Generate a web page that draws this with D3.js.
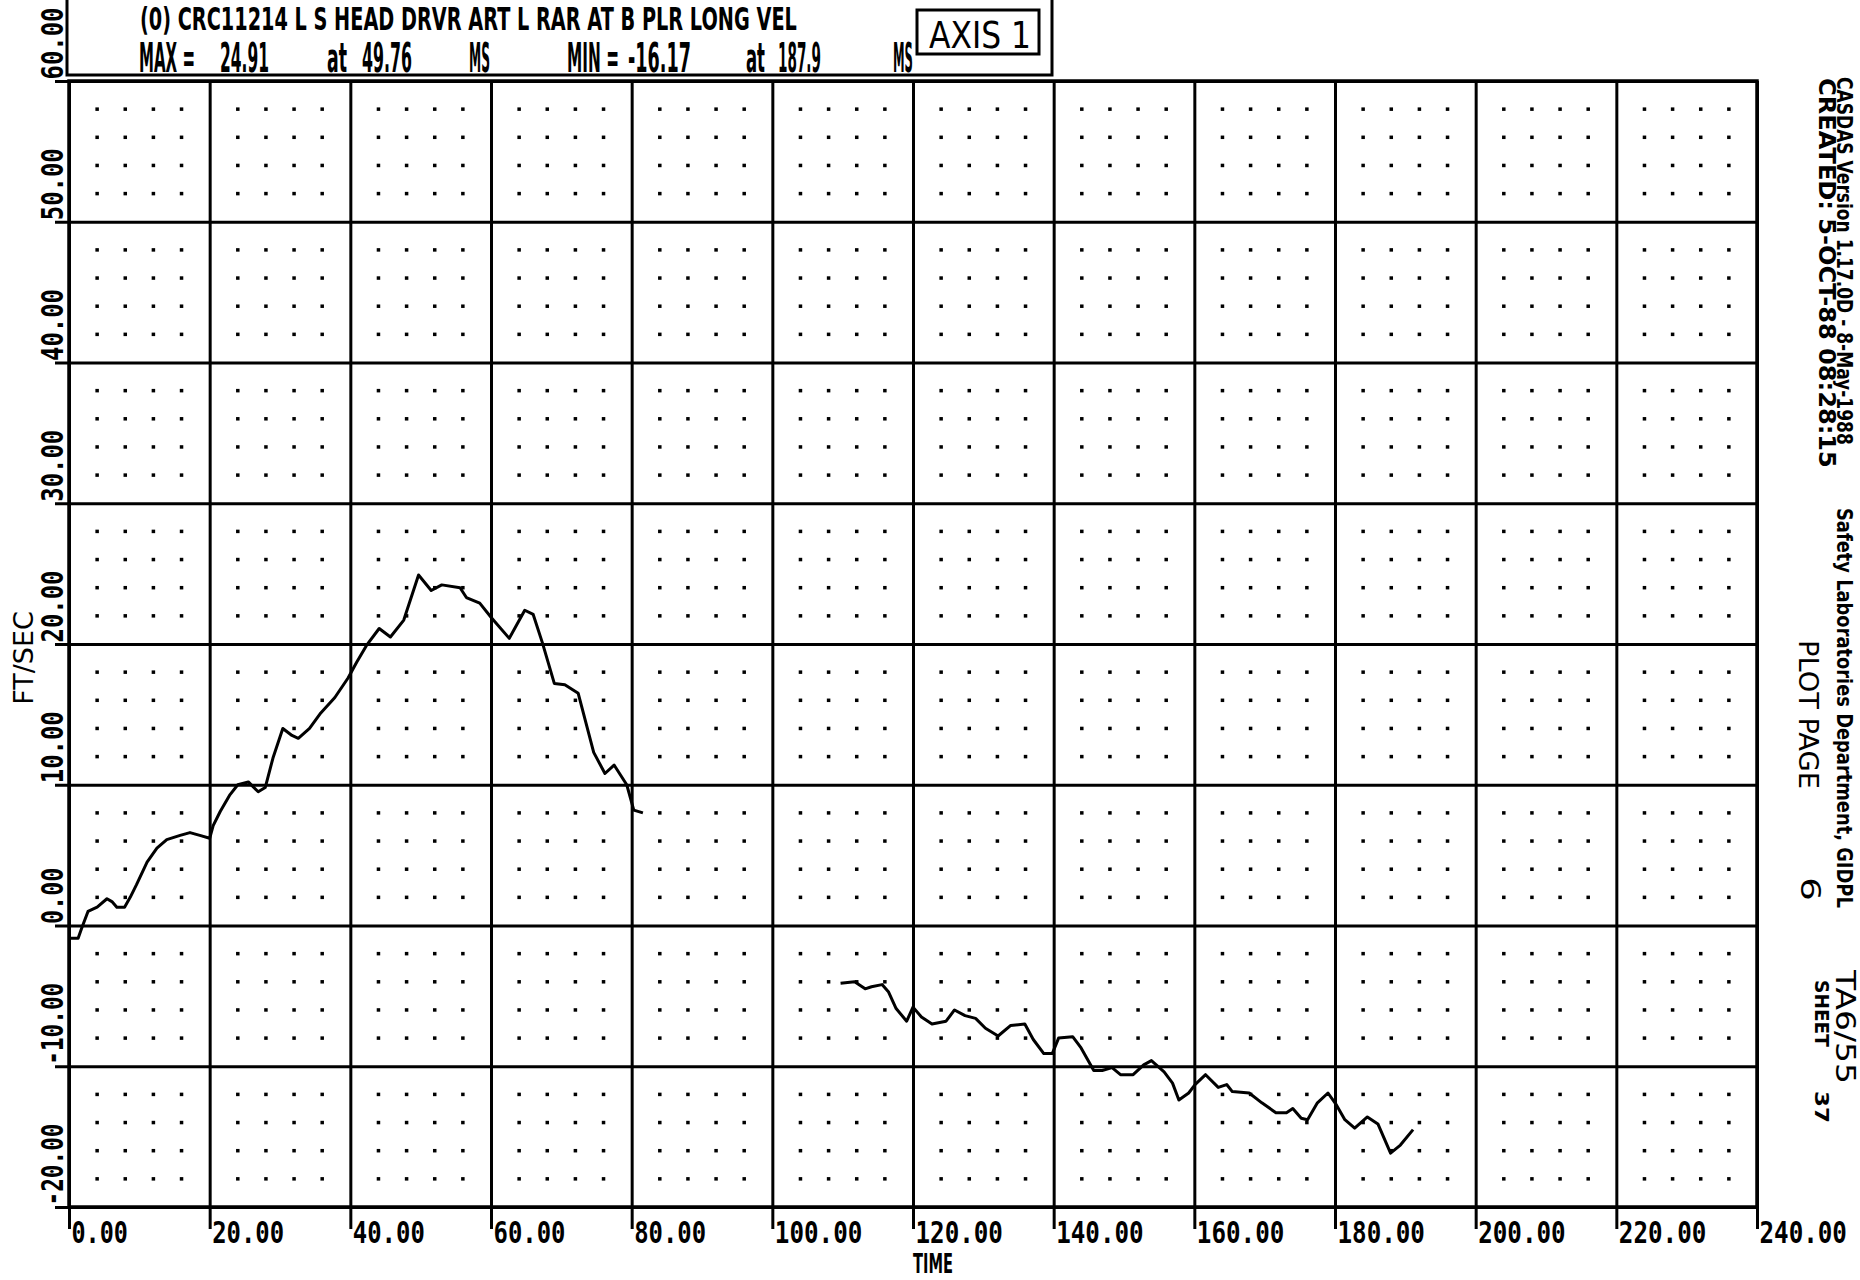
<!DOCTYPE html>
<html>
<head>
<meta charset="utf-8">
<script src="https://cdn.jsdelivr.net/npm/d3@7"></script>
<style>
  html, body { margin: 0; padding: 0; background: #fff; }
  svg { display: block; }
</style>
</head>
<body>
<div id="chart"></div>
<script>
// first trace segment (ms, ft/sec)
const timeA = [0.0, 1.3, 1.8, 2.7, 4.0, 5.4, 6.1, 6.8, 7.9, 8.7, 9.6, 11.1, 12.5, 13.9, 15.8, 17.2, 18.6, 20.0,
    20.5, 21.5, 22.9, 24.0, 25.5, 26.9, 27.9, 29.0, 30.4, 31.7, 32.6, 34.2, 35.8, 37.8, 39.7, 40.9, 42.3, 44.1,
    45.7, 47.6, 49.7, 51.5, 53.0, 55.6, 56.5, 58.4, 60.0, 62.6, 64.8, 66.0, 67.3, 69.0, 70.5, 72.4, 74.6, 76.2,
    77.5, 79.3, 80.3, 81.6];
const velA = [-0.9, -0.9, -0.2, 1.0, 1.3, 1.9, 1.7, 1.3, 1.3, 2.0, 2.9, 4.5, 5.5, 6.1, 6.4, 6.6, 6.4, 6.2,
    7.1, 8.1, 9.3, 10.0, 10.2, 9.5, 9.8, 11.9, 14.0, 13.5, 13.3, 14.0, 15.1, 16.2, 17.6, 18.7, 19.9, 21.1,
    20.5, 21.7, 24.9, 23.8, 24.2, 24.0, 23.3, 22.9, 21.9, 20.4, 22.4, 22.1, 20.1, 17.2, 17.1, 16.5, 12.3, 10.8,
    11.4, 10.0, 8.2, 8.0];

// second trace segment
const timeB = [109.7, 111.7, 113.2, 114.1, 115.6, 116.5, 117.6, 119.1, 120.0, 121.2, 122.7, 124.7, 125.9, 127.4,
    128.9, 130.3, 132.1, 133.9, 135.9, 137.1, 138.6, 139.8, 140.7, 142.7, 143.9, 145.7, 146.9, 148.3, 149.5,
    151.3, 152.8, 153.9, 155.7, 156.9, 157.8, 159.2, 160.1, 161.6, 163.4, 164.6, 165.4, 167.8, 169.6, 171.6,
    173.1, 174.0, 175.2, 176.1, 177.5, 179.0, 180.2, 181.4, 182.8, 184.6, 186.1, 187.9, 189.3, 191.1];
const velB = [-4.1, -4.0, -4.5, -4.35, -4.2, -4.7, -5.9, -6.8, -5.8, -6.5, -7.0, -6.8, -6.0, -6.4,
    -6.6, -7.3, -7.85, -7.1, -7.0, -8.1, -9.1, -9.1, -8.0, -7.9, -8.7, -10.3, -10.3, -10.1, -10.6,
    -10.6, -9.9, -9.6, -10.4, -11.2, -12.4, -11.9, -11.3, -10.6, -11.5, -11.3, -11.8, -11.9, -12.6, -13.3,
    -13.3, -13.0, -13.7, -13.8, -12.6, -11.9, -12.75, -13.8, -14.4, -13.6, -14.1, -16.17, -15.6, -14.5];

const xTicks = [0, 20, 40, 60, 80, 100, 120, 140, 160, 180, 200, 220, 240];
const xTickLabels = ["0.00", "20.00", "40.00", "60.00", "80.00", "100.00", "120.00", "140.00",
    "160.00", "180.00", "200.00", "220.00", "240.00"];
const yTicks = [-20, -10, 0, 10, 20, 30, 40, 50, 60];
const yTickLabels = ["-20.00", "-10.00", "0.00", "10.00", "20.00", "30.00", "40.00", "50.00", "60.00"];

const titleText = "(0) CRC11214 L S HEAD DRVR ART L RAR AT B PLR LONG VEL";
const statWords = ["MAX =", "24.91", "at", "49.76", "MS", "MIN =", "-16.17", "at", "187.9", "MS"];
const statSpans = [[139, 195], [220, 269], [327, 347], [362, 412], [469, 490],
    [567, 619], [628, 691], [746, 765], [778, 821], [893, 913]];

const sideTexts = [
    { t: "CASDAS Version 1.17.0D - 8-May-1988", x: 1837, y: 77, len: 368, size: 21, bold: true },
    { t: "Safety Laboratories Department, GIDPL", x: 1837, y: 508, len: 400, size: 21, bold: true },
    { t: "CREATED: 5-OCT-88 08:28:15", x: 1819, y: 78, len: 390, size: 23, bold: true },
    { t: "PLOT PAGE", x: 1799, y: 640, len: 149, size: 27, bold: false },
    { t: "6", x: 1801, y: 877, len: 24, size: 27, bold: false },
    { t: "TA6/55", x: 1836, y: 970, len: 114, size: 26, bold: false },
    { t: "SHEET", x: 1815, y: 980, len: 67, size: 20, bold: true },
    { t: "37", x: 1815, y: 1091, len: 32, size: 20, bold: true }
];

const W = 1860, H = 1280;
const monoFont = "'DejaVu Sans Mono', monospace";
const sansFont = "'DejaVu Sans', sans-serif";

// label widths: plotter digits are wider than the dot
const labelWidth = s => s.split("").reduce((w, c) => w + (c === "." || c === "-" ? 10 : 15.5), 0);

// squeeze a text sideways so it fills the given width (keeps its bbox honest)
function fitWidth(sel, widthFn) {
    sel.each(function (d, i) {
        const natural = this.getComputedTextLength();
        const base = this.getAttribute("transform") || "";
        this.setAttribute("transform", `${base} scale(${widthFn(d, i) / natural},1)`);
    });
}

const svg = d3.select("#chart").append("svg")
    .attr("width", W)
    .attr("height", H)
    .style("background", "#fff");

const x = d3.scaleLinear().domain([0, 240]).range([69, 1757]);
const y = d3.scaleLinear().domain([-20, 60]).range([1207, 81]);

// dotted minor grid
const xMinor = d3.range(0, 241, 4).filter(d => d % 20 !== 0);
const yMinor = d3.range(-20, 61, 2).filter(d => d % 10 !== 0);
const dots = [];
xMinor.forEach(a => yMinor.forEach(b => dots.push([a, b])));
svg.append("g")
    .selectAll("rect")
    .data(dots)
    .join("rect")
        .attr("x", d => x(d[0]) - 1.75)
        .attr("y", d => y(d[1]) - 1.75)
        .attr("width", 3.5)
        .attr("height", 3.5)
        .attr("fill", "#000");

// major grid
svg.append("g")
    .attr("transform", `translate(0,${y(-20)})`)
    .call(d3.axisBottom(x).tickValues(xTicks).tickSize(-(y(-20) - y(60))).tickFormat(""))
    .call(g => g.select(".domain").remove())
    .selectAll("line")
        .attr("stroke", "#000")
        .attr("stroke-width", 3);

svg.append("g")
    .attr("transform", `translate(${x(0)},0)`)
    .call(d3.axisLeft(y).tickValues(yTicks).tickSize(-(x(240) - x(0))).tickFormat(""))
    .call(g => g.select(".domain").remove())
    .selectAll("line")
        .attr("stroke", "#000")
        .attr("stroke-width", 3);

// frame
svg.append("rect")
    .attr("x", x(0))
    .attr("y", y(60))
    .attr("width", x(240) - x(0))
    .attr("height", y(-20) - y(60))
    .attr("fill", "none")
    .attr("stroke", "#000")
    .attr("stroke-width", 3.5);

// x axis with labels
const xAxis = svg.append("g")
    .attr("transform", `translate(0,${y(-20)})`)
    .call(d3.axisBottom(x).tickValues(xTicks).tickSize(22).tickFormat((d, i) => xTickLabels[i]));
xAxis.select(".domain").remove();
xAxis.selectAll("line").attr("stroke", "#000").attr("stroke-width", 3);
xAxis.selectAll("text")
    .attr("x", 0)
    .attr("y", 0)
    .attr("dy", null)
    .attr("transform", "translate(2,36)")
    .attr("text-anchor", "start")
    .attr("fill", "#000")
    .style("font-family", monoFont)
    .style("font-weight", "bold")
    .style("font-size", "30px")
    .call(fitWidth, (d, i) => labelWidth(xTickLabels[i]));

// y axis with rotated labels
const yAxis = svg.append("g")
    .attr("transform", `translate(${x(0)},0)`)
    .call(d3.axisLeft(y).tickValues(yTicks).tickSize(14).tickFormat((d, i) => yTickLabels[i]));
yAxis.select(".domain").remove();
yAxis.selectAll("line").attr("stroke", "#000").attr("stroke-width", 3);
yAxis.selectAll("text")
    .attr("x", 0)
    .attr("y", 0)
    .attr("dy", null)
    .attr("transform", "translate(-6,-2) rotate(-90)")
    .attr("text-anchor", "start")
    .attr("fill", "#000")
    .style("font-family", monoFont)
    .style("font-weight", "bold")
    .style("font-size", "30px")
    .call(fitWidth, (d, i) => labelWidth(yTickLabels[i]));

// axis titles
svg.append("text")
    .attr("transform", "translate(33,658) rotate(-90)")
    .attr("text-anchor", "middle")
    .style("font-family", sansFont)
    .style("font-size", "27px")
    .text("FT/SEC");

svg.append("text")
    .attr("transform", "translate(913,1273)")
    .style("font-family", sansFont)
    .style("font-weight", "bold")
    .style("font-size", "27px")
    .text("TIME")
    .call(fitWidth, () => 40);

// the trace
const line = d3.line()
    .x(d => x(d[0]))
    .y(d => y(d[1]));

[[timeA, velA], [timeB, velB]].forEach(([ts, vs]) => {
    svg.append("path")
        .datum(ts.map((t, i) => [t, vs[i]]))
        .attr("fill", "none")
        .attr("stroke", "#000")
        .attr("stroke-width", 3)
        .attr("stroke-linejoin", "round")
        .attr("d", line);
});

// header box
svg.append("path")
    .attr("d", "M67,-5 V75 H1052 V-5")
    .attr("fill", "none")
    .attr("stroke", "#000")
    .attr("stroke-width", 3);

svg.append("text")
    .attr("transform", "translate(140,30)")
    .style("font-family", sansFont)
    .style("font-weight", "bold")
    .style("font-size", "32px")
    .text(titleText)
    .call(fitWidth, () => 657);

svg.append("g")
    .selectAll("text")
    .data(statWords)
    .join("text")
        .attr("transform", (d, i) => `translate(${statSpans[i][0]},72)`)
        .style("font-family", sansFont)
        .style("font-weight", "bold")
        .style("font-size", "40px")
        .text(d => d)
        .call(fitWidth, (d, i) => statSpans[i][1] - statSpans[i][0]);

svg.append("rect")
    .attr("x", 917)
    .attr("y", 10)
    .attr("width", 122)
    .attr("height", 44)
    .attr("fill", "none")
    .attr("stroke", "#000")
    .attr("stroke-width", 3);

svg.append("text")
    .attr("transform", "translate(929,48)")
    .style("font-family", sansFont)
    .style("font-size", "38px")
    .text("AXIS 1")
    .call(fitWidth, () => 102);

// side annotations, rotated to read top to bottom
svg.append("g")
    .selectAll("text")
    .data(sideTexts)
    .join("text")
        .attr("transform", d => `translate(${d.x},${d.y}) rotate(90)`)
        .style("font-family", sansFont)
        .style("font-weight", d => d.bold ? "bold" : "normal")
        .style("font-size", d => d.size + "px")
        .text(d => d.t)
        .call(fitWidth, d => d.len);
</script>
</body>
</html>
